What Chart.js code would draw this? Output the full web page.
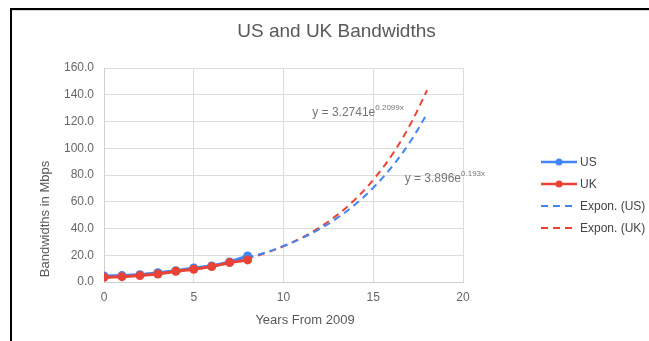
<!DOCTYPE html>
<html lang="en">
<head>
  <meta charset="UTF-8" />
  <title>US and UK Bandwidths</title>
  <script src="https://cdn.jsdelivr.net/npm/chart.js"></script>
  <style>
    html, body {
      margin: 0;
      padding: 0;
      background: #fff;
      overflow: hidden;
    }
    #wrap {
      position: relative;
      width: 649px;
      height: 341px;
    }
    #chart {
      position: absolute;
      left: 0;
      top: 0;
    }
    #frame {
      position: absolute;
      left: 10px;
      top: 8px;
      width: 700px;
      height: 400px;
      border-left: 2px solid #000;
      border-top: 2px solid #000;
      pointer-events: none;
    }
    #frame:after {
      content: "";
      position: absolute;
      left: 0;
      top: 0;
      right: 0;
      border-top: 1px solid #d6d6d6;
    }
  </style>
</head>
<body>
  <div id="wrap">
    <canvas id="chart" width="649" height="341"></canvas>
    <div id="frame"></div>
  </div>

  <script>
    const chartTitle = "US and UK Bandwidths";
    const xTitle = "Years From 2009";
    const yTitle = "Bandwidths in Mbps";

    // observed years (0 = 2009)
    const years = [0, 1, 2, 3, 4, 5, 6, 7, 8];
    const usMbps = [4.5, 4.8, 5.5, 7.0, 8.5, 10.5, 12.0, 15.0, 19.5];
    const ukMbps = [3.5, 4.0, 4.8, 6.0, 8.0, 9.5, 11.5, 14.5, 16.5];

    // exponential trend lines
    const trendYears = [0, 1, 2, 3, 4, 5, 6, 7, 8, 9, 10, 11, 12, 13, 14, 15, 16, 17, 18];
    const usTrend = [3.9, 4.7, 5.7, 7.0, 8.4, 10.2, 12.4, 15.0, 18.3, 22.1, 26.9, 32.6, 39.5, 47.9, 58.1, 70.5, 85.5, 103.7, 125.8];
    const ukTrend = [3.3, 4.0, 5.0, 6.1, 7.6, 9.4, 11.5, 14.2, 17.6, 21.7, 26.7, 33.0, 40.7, 50.2, 61.9, 76.4, 94.2, 116.2, 143.4];

    const xTicks = [0, 5, 10, 15, 20];
    const yTicks = [0, 20, 40, 60, 80, 100, 120, 140, 160];

    // equation labels: text, exponent, anchor in data units
    const equations = [
      { text: "y = 3.2741e", sup: "0.2099x", at: [11.6, 126.5] },
      { text: "y = 3.896e", sup: "0.193x", at: [16.75, 77] }
    ];

    const BLUE = "#4285F4";
    const RED = "#EA4335";
    const FONT = '"Liberation Sans", Arial, sans-serif';

    const pts = (xs, ys) => xs.map((x, i) => ({ x, y: ys[i] }));

    const extras = {
      id: "extras",
      afterDraw(chart) {
        const { ctx, chartArea, scales } = chart;
        ctx.save();

        // title
        ctx.fillStyle = "#595959";
        ctx.font = "19px " + FONT;
        ctx.textAlign = "center";
        ctx.textBaseline = "middle";
        ctx.fillText(chartTitle, chart.width / 2 + 12, 32);

        // axis titles
        ctx.font = "13px " + FONT;
        ctx.fillStyle = "#595959";
        ctx.fillText(xTitle, 305, chartArea.bottom + 38);
        ctx.save();
        ctx.translate(45, 219);
        ctx.rotate(-Math.PI / 2);
        ctx.fillText(yTitle, 0, 0);
        ctx.restore();

        // equations
        equations.forEach(eq => {
          const px = scales.x.getPixelForValue(eq.at[0]);
          const py = scales.y.getPixelForValue(eq.at[1]);
          ctx.fillStyle = "#757575";
          ctx.textAlign = "left";
          ctx.font = "12px " + FONT;
          ctx.fillText(eq.text, px, py);
          const w = ctx.measureText(eq.text).width;
          ctx.font = "8px " + FONT;
          ctx.fillText(eq.sup, px + w, py - 5);
        });

        // legend
        const items = chart.data.datasets;
        const lx = 541, lw = 36;
        let ly = 162;
        items.forEach(ds => {
          ctx.strokeStyle = ds.borderColor;
          ctx.lineWidth = ds.borderDash ? 2 : 2.5;
          ctx.setLineDash(ds.borderDash || []);
          ctx.beginPath();
          ctx.moveTo(lx, ly);
          ctx.lineTo(lx + lw, ly);
          ctx.stroke();
          ctx.setLineDash([]);
          if (!ds.borderDash) {
            ctx.fillStyle = ds.borderColor;
            ctx.beginPath();
            ctx.arc(lx + lw / 2, ly, 3.5, 0, Math.PI * 2);
            ctx.fill();
          }
          ctx.fillStyle = "#444";
          ctx.font = "12px " + FONT;
          ctx.textAlign = "left";
          ctx.fillText(ds.label, lx + lw + 3, ly + 1);
          ly += 22;
        });

        ctx.restore();
      }
    };

    new Chart(document.getElementById("chart"), {
      type: "line",
      data: {
        datasets: [
          {
            label: "US",
            data: pts(years, usMbps),
            borderColor: BLUE,
            backgroundColor: BLUE,
            borderWidth: 3,
            pointRadius: 4.5,
            pointBorderWidth: 0,
            order: 2
          },
          {
            label: "UK",
            data: pts(years, ukMbps),
            borderColor: RED,
            backgroundColor: RED,
            borderWidth: 3,
            pointRadius: 4.5,
            pointBorderWidth: 0,
            order: 1
          },
          {
            label: "Expon. (US)",
            data: pts(trendYears, usTrend),
            borderColor: BLUE,
            borderWidth: 2,
            borderDash: [7, 5],
            pointRadius: 0,
            tension: 0.4,
            order: 3
          },
          {
            label: "Expon. (UK)",
            data: pts(trendYears, ukTrend),
            borderColor: RED,
            borderWidth: 2,
            borderDash: [7, 5],
            pointRadius: 0,
            tension: 0.4,
            order: 4
          }
        ]
      },
      options: {
        responsive: false,
        animation: false,
        layout: {
          padding: { left: 0, top: 68, right: 186, bottom: 0 }
        },
        plugins: {
          legend: { display: false },
          tooltip: { enabled: false },
          title: { display: false }
        },
        scales: {
          x: {
            type: "linear",
            min: xTicks[0],
            max: xTicks[xTicks.length - 1],
            afterFit: s => { s.height = 59; },
            afterBuildTicks: s => { s.ticks = xTicks.map(v => ({ value: v })); },
            ticks: {
              color: "#666",
              font: { family: FONT, size: 12 },
              padding: 8,
              maxRotation: 0
            },
            grid: { color: "#dcdcdc", drawTicks: false },
            border: { color: "#d0d0d0" }
          },
          y: {
            min: yTicks[0],
            max: yTicks[yTicks.length - 1],
            afterFit: s => { s.width = 104; },
            afterBuildTicks: s => { s.ticks = yTicks.map(v => ({ value: v })); },
            ticks: {
              color: "#666",
              font: { family: FONT, size: 12 },
              padding: 10,
              callback: v => v.toFixed(1)
            },
            grid: { color: "#dcdcdc", drawTicks: false },
            border: { color: "#d0d0d0" }
          }
        }
      },
      plugins: [extras]
    });
  </script>
</body>
</html>
